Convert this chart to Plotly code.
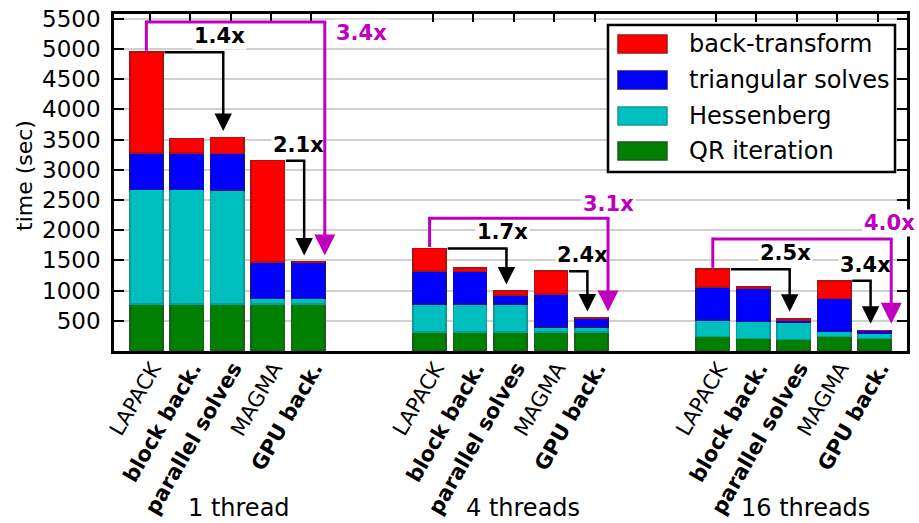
import plotly.graph_objects as go

# ---------------- data ----------------
groups = ["1 thread", "4 threads", "16 threads"]
methods = ["LAPACK", "block back.", "parallel solves", "MAGMA", "GPU back."]
bold_method = [False, True, True, False, True]

series_names = ["QR iteration", "Hessenberg", "triangular solves", "back-transform"]
qr_iteration = [777, 777, 777, 777, 777, 314, 314, 314, 314, 314, 237, 209, 193, 237, 209]
hessenberg = [1896, 1896, 1890, 94, 94, 463, 463, 463, 83, 83, 275, 282, 275, 82, 83]
triangular_solves = [605, 605, 600, 606, 600, 545, 540, 154, 545, 148, 551, 545, 42, 552, 50]
back_transform = [1669, 243, 265, 1675, 0, 375, 55, 61, 380, 0, 292, 20, 30, 291, 0]

speedup_lapack_parallel = ["1.4x", "1.7x", "2.5x"]
speedup_magma_gpu = ["2.1x", "2.4x", "3.4x"]
speedup_lapack_gpu = ["3.4x", "3.1x", "4.0x"]

# ---------------- style ----------------
FONT = "DejaVu Sans"
fills = ["#008000", "#00bfbf", "#0000ff", "#ff0000"]
edges = ["#1f5a1f", "#119999", "#10109a", "#b01010"]
MAG = "#bf00bf"
W, H = 919, 523
L, R, T, B = 114, 12, 14, 172
GROUP_STEP = 7
BAR_W = 0.82
YMAX = 5580

n_per = len(methods)
xpos = [g * GROUP_STEP + i for g in range(len(groups)) for i in range(n_per)]
series = [qr_iteration, hessenberg, triangular_solves, back_transform]
totals = [sum(s[k] for s in series) for k in range(len(xpos))]

fig = go.Figure()
for name, vals, fc, ec in zip(series_names, series, fills, edges):
    fig.add_trace(go.Bar(
        x=xpos, y=vals, name=name, width=BAR_W,
        marker=dict(color=fc, line=dict(color=ec, width=1.5)),
        showlegend=False,
    ))
# empty trace to activate the top tick axis
fig.add_trace(go.Scatter(x=[], y=[], xaxis="x2", showlegend=False, hoverinfo="skip"))

ticktext = [("<b>%s</b>" % m) if b else m for g in groups for m, b in zip(methods, bold_method)]
top_tickvals = [x + 0.08 for x in xpos]
label_tickvals = [x + 0.15 for x in xpos]

fig.update_layout(
    width=W, height=H,
    margin=dict(l=L, r=R, t=T, b=B, autoexpand=False),
    paper_bgcolor="white", plot_bgcolor="white",
    barmode="stack",
    font=dict(family=FONT, size=21, color="black"),
    xaxis=dict(range=[-0.8, 18.8], tickvals=label_tickvals, ticktext=ticktext,
               tickangle=-60, ticks="", showgrid=False, zeroline=False,
               showline=True, linecolor="black", linewidth=2.5, mirror=True,
               tickfont=dict(size=21, family=FONT), ticklabelstandoff=-6,
               automargin=False),
    xaxis2=dict(range=[-0.8, 18.8], overlaying="x", side="top", anchor="y",
                tickvals=top_tickvals, ticks="inside", ticklen=8, tickwidth=1.5,
                tickcolor="black", showticklabels=False, showgrid=False,
                zeroline=False, showline=False, automargin=False),
    yaxis=dict(range=[0, YMAX], tickvals=list(range(500, 5501, 500)),
               ticks="inside", ticklen=10, tickwidth=1.5, tickcolor="black",
               showgrid=True, gridcolor="#d0d0d0", gridwidth=1.5,
               zeroline=False, showline=True, linecolor="black", linewidth=2.5,
               mirror="ticks", tickfont=dict(size=23, family=FONT),
               ticklabelstandoff=6, automargin=False),
)

def px2x(p):
    return (p - L) / (W - L - R)

def py2y(p):
    return (H - B - p) / (H - B - T)

annotations = []
shapes = []

# y-axis title
annotations.append(dict(text="time (sec)", xref="paper", yref="paper",
                        x=px2x(25), y=py2y(176), showarrow=False, textangle=-90,
                        font=dict(size=22, family=FONT), xanchor="center", yanchor="middle"))

# group labels
for g, name in enumerate(groups):
    annotations.append(dict(text=name, xref="x", yref="paper",
                            x=g * GROUP_STEP + 2 + 0.3, y=py2y(523), showarrow=False,
                            font=dict(size=24, family=FONT), xanchor="center", yanchor="bottom",
                            borderpad=0))

# speedup labels and connectors
labels = []
lines = []
PAD = 110
RISE = 500
HALF = BAR_W / 2
mag_label_dx = [0.91, 0.0, 0.0]
mag_label_dy = [-180, 240, 260]
for g in range(len(groups)):
    b = g * GROUP_STEP
    t = totals[g * n_per:(g + 1) * n_per]
    # LAPACK -> parallel solves
    xa = b + 1.9
    lines.append(("black", b + HALF, t[0], xa + 0.03, t[0], False))
    lines.append(("black", xa, t[0] + 20, xa, t[2] + PAD, True))
    labels.append((speedup_lapack_parallel[g], "black", b + 1.8, t[0] + 270, None))
    # MAGMA -> GPU back.
    xb = b + 3.9
    lines.append(("black", b + 3 + HALF, t[3], xb + 0.03, t[3], False))
    lines.append(("black", xb, t[3] + 20, xb, t[4] + PAD, True))
    labels.append((speedup_magma_gpu[g], "black", b + 3.77, t[3] + 265, None))
    # LAPACK -> GPU back. (magenta)
    lvl = t[0] + RISE
    xm = b + 4 + HALF
    lines.append((MAG, b, t[0], b, lvl + 25, False))
    lines.append((MAG, b - 0.035, lvl, xm + 0.035, lvl, False))
    lines.append((MAG, xm, lvl + 25, xm, t[4] + PAD, True))
    labels.append((speedup_lapack_gpu[g], MAG, xm + mag_label_dx[g], lvl + mag_label_dy[g],
                   "right" if g == len(groups) - 1 else None))

for txt, col, x, y, anchor in labels:
    a = dict(text="<b>%s</b>" % txt, x=x, y=y, xref="x", yref="y",
             showarrow=False, font=dict(size=21, family=FONT, color=col),
             bgcolor="white", borderpad=1, xanchor="center", yanchor="middle")
    if anchor == "right":
        a.update(xref="paper", x=px2x(917), xanchor="right")
    annotations.append(a)

for col, x0, y0, x1, y1, head in lines:
    annotations.append(dict(text="", x=x1, y=y1, ax=x0, ay=y0, xref="x", yref="y",
                            axref="x", ayref="y", showarrow=True,
                            arrowhead=2 if head else 0, arrowsize=1.4,
                            arrowwidth=3 if col == MAG else 2.5, arrowcolor=col,
                            standoff=0, startstandoff=0))

# manual legend (top-right box)
shapes.append(dict(type="rect", xref="paper", yref="paper",
                   x0=px2x(608), x1=px2x(895), y0=py2y(172), y1=py2y(25),
                   line=dict(color="black", width=2.5), fillcolor="white", layer="above"))
legend_rows = [3, 2, 1, 0]
row_y = [44, 80, 116, 151]
for k, yc in zip(legend_rows, row_y):
    shapes.append(dict(type="rect", xref="paper", yref="paper",
                       x0=px2x(618), x1=px2x(667), y0=py2y(yc + 9), y1=py2y(yc - 9),
                       line=dict(color=edges[k], width=1.5), fillcolor=fills[k], layer="above"))
    annotations.append(dict(text=series_names[k], xref="paper", yref="paper",
                            x=px2x(687), y=py2y(yc), showarrow=False, xanchor="left",
                            yanchor="middle", font=dict(size=24, family=FONT)))

fig.update_layout(annotations=annotations, shapes=shapes)
fig.write_html("out.html", config={"displayModeBar": False},
               post_script="document.body.style.margin='0';document.body.style.overflow='hidden';")
